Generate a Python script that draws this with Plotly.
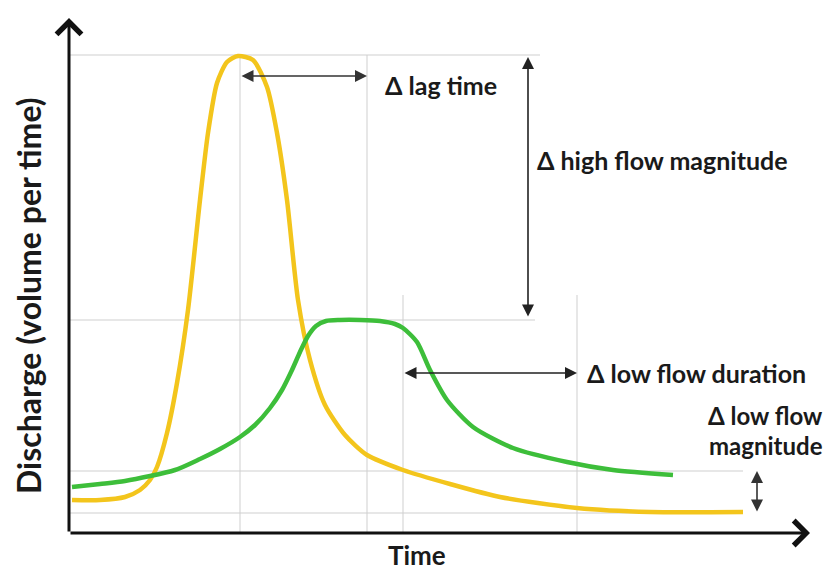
import plotly.graph_objects as go

# Conceptual hydrograph (arbitrary units: time, discharge)
yellow_t = [3, 31, 56, 71, 81, 88, 98, 108, 119, 131, 139, 148, 158, 169, 184, 198, 208, 218, 229, 241, 256, 276, 298, 334, 381, 431, 508, 581, 674]
yellow_q = [33, 33, 36, 43, 53, 66, 100, 150, 223, 333, 400, 450, 471, 477, 473, 446, 400, 333, 233, 173, 128, 98, 78, 63, 49, 36, 25, 21, 21]

green_t = [3, 31, 56, 106, 131, 151, 171, 186, 201, 213, 223, 231, 239, 247, 257, 271, 291, 311, 326, 334, 348, 361, 378, 404, 444, 498, 544, 604]
green_q = [46, 49, 52, 63, 74, 84, 96, 108, 125, 143, 163, 181, 197, 207, 212, 213, 213, 212, 209, 205, 191, 163, 133, 106, 85, 71, 63, 58]

# reference levels / times
yellow_peak_t, yellow_peak_q = 171, 478
green_peak_t, green_peak_q = 298, 213
green_shoulder_t = 334
low_end_t = 508
green_low_q, yellow_low_q = 62, 20

X_MAX, Y_MAX = 741, 515
GRID = "#cfcfcf"
FONT = "Lato"
FS = 25

fig = go.Figure()

def hline(y, x1):
    fig.add_shape(type="line", x0=0, x1=x1, y0=y, y1=y, line=dict(color=GRID, width=1), layer="below")

def vline(x, y1):
    fig.add_shape(type="line", x0=x, x1=x, y0=0, y1=y1, line=dict(color=GRID, width=1), layer="below")

hline(yellow_peak_q, 471)
hline(green_peak_q, 466)
hline(green_low_q, 674)
hline(yellow_low_q, 674)
vline(yellow_peak_t, yellow_peak_q)
vline(green_peak_t, yellow_peak_q)
vline(green_shoulder_t, 238)
vline(low_end_t, 238)

fig.add_trace(go.Scatter(x=yellow_t, y=yellow_q, mode="lines", line=dict(color="#F3C51C", width=4.5, shape="spline", smoothing=0.7), showlegend=False, hoverinfo="skip"))
fig.add_trace(go.Scatter(x=green_t, y=green_q, mode="lines", line=dict(color="#3DBE3A", width=4.5, shape="spline", smoothing=0.7), showlegend=False, hoverinfo="skip"))

# axes with arrows
for (x, y, ax, ay) in [(0, Y_MAX, 0, 0), (X_MAX, 0, 0, 0)]:
    fig.add_annotation(x=x, y=y, ax=ax, ay=ay, xref="x", yref="y", axref="x", ayref="y",
                       text="", showarrow=True, arrowhead=4, arrowsize=1.6, arrowwidth=3,
                       arrowcolor="#111111", standoff=0, startstandoff=0)

def darrow(x0, y0, x1, y1, color="#222222"):
    fig.add_annotation(x=x1, y=y1, ax=x0, ay=y0, xref="x", yref="y", axref="x", ayref="y",
                       text="", showarrow=True, arrowhead=2, arrowside="end+start",
                       arrowsize=1.5, arrowwidth=1.6, arrowcolor=color, standoff=0, startstandoff=0)

darrow(yellow_peak_t, 457, green_peak_t, 457, "#333333")
darrow(459, green_peak_q + 2, 459, yellow_peak_q - 2)
darrow(green_shoulder_t, 160, low_end_t, 160)
darrow(688, yellow_low_q, 688, green_low_q, "#333333")

def label(text, x, y, xanchor="left", align="left", angle=0, size=FS):
    # x, y in paper fractions of plot area
    fig.add_annotation(x=x, y=y, xref="paper", yref="paper", text=text, showarrow=False,
                       xanchor=xanchor, yanchor="middle", align=align, textangle=angle,
                       font=dict(family=FONT, size=size, color="#1a1a1a"))

label("<b>Δ lag time</b>", 314 / X_MAX, 448 / Y_MAX)
label("<b>Δ high flow magnitude</b>", 466 / X_MAX, 373 / Y_MAX)
label("<b>Δ low flow duration</b>", 516 / X_MAX, 160 / Y_MAX)
label("<b>Δ low flow</b>", 756 / X_MAX, 118 / Y_MAX, xanchor="right", align="right", size=24)
label("<b>magnitude</b>", 756 / X_MAX, 88 / Y_MAX, xanchor="right", align="right", size=24)
label("<b>Time</b>", 348 / X_MAX, -22 / Y_MAX, xanchor="center", align="center", size=26)
label("<b>Discharge (volume per time)</b>", -41 / X_MAX, 237 / Y_MAX, xanchor="center", align="center", angle=-90, size=32)

fig.update_xaxes(range=[0, X_MAX], visible=False, fixedrange=True)
fig.update_yaxes(range=[0, Y_MAX], visible=False, fixedrange=True)
# page body has an 8px default margin; the figure is sized so it fits the window
fig.update_layout(width=824, height=565, margin=dict(l=61, r=22, t=10, b=40),
                  plot_bgcolor="white", paper_bgcolor="white", showlegend=False)

fig.write_html("out.html")
